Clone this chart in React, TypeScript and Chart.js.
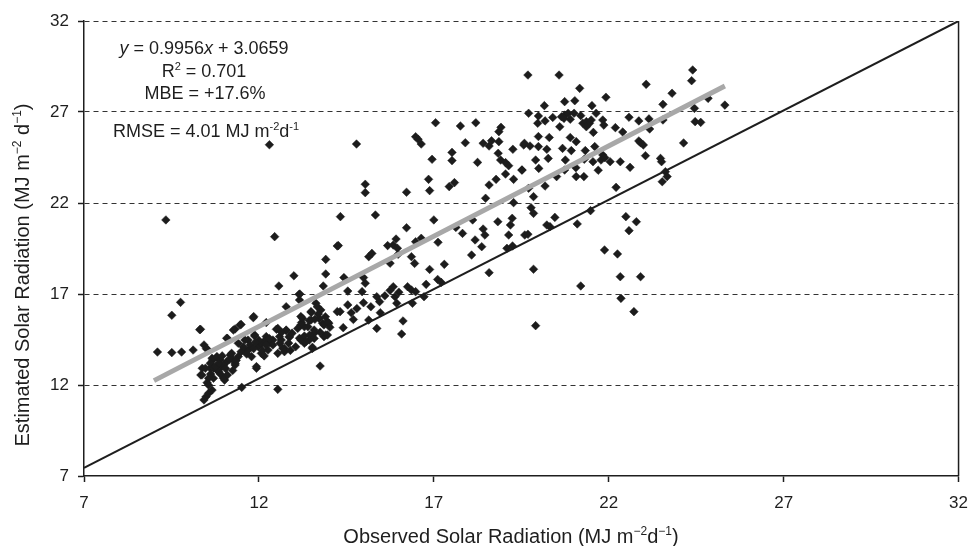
import React, { useEffect, useRef } from "react";
import { Chart, registerables } from "chart.js";

Chart.register(...registerables);

// Observed (x) and estimated (y) daily solar radiation, MJ m-2 d-1
const observed: number[] = [
  9.34, 12.45, 13.91, 13.0, 13.91, 12.57, 13.84, 9.76, 9.51, 13.17, 12.78, 11.85, 10.31, 9.1, 9.51, 9.79, 10.12, 10.43, 10.5,
  11.32, 11.49, 11.1, 11.22, 10.87, 10.68, 10.61, 10.38, 10.34, 10.7, 10.52, 11.02, 10.94, 11.08, 11.32, 10.85, 10.49, 10.56,
  10.66, 10.43, 11.51, 12.54, 13.75, 11.41, 11.6, 11.69, 11.88, 11.98, 11.79, 11.93, 12.07, 12.21, 12.31, 12.4, 12.54, 12.78,
  12.64, 12.54, 12.73, 12.87, 13.2, 13.2, 13.49, 13.49, 13.58, 13.72, 13.82, 13.63, 13.67, 13.77, 14.0, 13.91, 13.58, 13.44,
  13.3, 13.2, 13.53, 13.11, 14.24, 14.24,
  10.52, 10.66, 10.8, 10.89, 10.61, 10.7, 10.47, 10.37, 10.56, 10.8, 10.99, 11.18, 11.27, 11.41, 11.32, 10.99, 10.56, 11.08,
  11.46, 11.6, 11.7, 11.88, 11.93, 12.07, 12.17, 12.26, 12.4, 12.5, 12.59, 12.68, 12.78, 12.87, 12.73, 13.16, 13.3, 13.34,
  13.53, 13.3, 13.22, 13.5, 13.6, 13.44, 13.86, 13.96, 14.03, 13.86, 13.58, 11.84, 10.33, 12.21, 11.49, 11.27, 13.15, 13.16,
  17.05, 17.76, 18.2, 18.92, 18.86, 16.48, 16.55, 14.79, 16.64, 17.9, 18.41, 18.58, 18.65, 18.86, 19.57, 19.26, 17.52, 17.52,
  16.95, 18.25, 18.84, 18.91, 19.05, 19.14, 19.52, 19.05, 19.28, 18.78, 18.58, 16.85, 16.88, 15.04, 15.04, 16.22, 17.44, 17.59,
  18.48, 19.28, 14.33, 15.33, 17.0, 16.22, 17.63, 18.11, 18.83, 19.24, 19.19, 18.41, 18.46, 17.82, 19.14, 14.27, 17.12, 15.68,
  15.92, 15.84, 15.96, 15.98, 15.75, 16.48, 16.64, 15.14, 15.23, 16.36, 16.45, 18.18, 18.37, 18.08, 19.09, 19.25, 19.6, 16.88,
  17.3, 17.11, 17.21, 18.58, 14.43, 14.54, 14.99, 15.04, 14.95, 15.84, 15.89, 15.94, 16.25, 16.36, 16.48, 16.78, 16.72, 16.39,
  15.37, 15.45, 14.99, 14.54, 14.64, 14.32, 14.41, 15.14, 15.47, 15.37, 16.12, 16.08, 13.96,
  19.69, 20.58, 24.4, 24.37, 23.07, 21.17, 23.81, 21.92, 20.74, 21.03, 20.16, 19.71, 19.99, 19.97, 20.18, 20.65, 20.74, 20.84,
  21.01, 20.6, 20.72, 21.52, 21.64, 21.26, 21.36, 21.45, 21.5, 21.36, 21.56, 21.83, 21.86, 22.19, 22.58, 22.86, 23.15, 23.17,
  23.55, 23.55, 24.45, 24.47, 24.63, 24.84, 24.14, 22.86, 22.91, 22.99, 23.05, 23.48, 23.51, 23.62, 23.67, 23.53, 19.59, 19.75,
  19.99, 19.99, 20.23, 20.27, 19.91, 20.68, 20.93, 21.07, 20.76, 21.33, 21.83, 21.78, 21.89, 22.04, 21.55, 22.33, 22.61, 19.52,
  21.06, 21.07, 21.29, 20.51, 20.18, 20.74, 19.71, 19.85, 19.78, 19.85, 22.21, 21.48, 20.46, 20.23, 20.32, 21.1, 22.49, 22.79,
  22.58, 19.69, 21.88, 22.25, 19.85, 22.33, 22.91, 21.2, 22.35, 22.72, 19.91, 25.32, 12.3,
  10.75, 10.9, 11.05, 11.15, 10.95, 11.25, 10.62, 11.35, 10.85, 11.1, 11.55, 11.75, 11.85, 12.0, 12.1, 12.2, 11.65, 12.3,
  11.9, 12.15, 12.6, 12.85, 12.95, 12.65, 13.05, 12.9, 13.4, 13.7, 13.75, 13.45, 13.9, 13.25, 14.8, 15.2, 15.6, 15.75,
  16.0, 14.7, 20.4, 20.9, 21.2, 20.3, 21.6, 22.4, 20.9, 21.3, 20.0, 21.7,
];
const estimated: number[] = [
  21.07, 20.15, 18.9, 18.0, 18.1, 17.44, 17.44, 16.54, 15.83, 17.0, 16.3, 15.76, 15.04, 13.81, 13.78, 13.81, 13.92, 14.2, 14.01,
  15.08, 15.33, 14.56, 13.74, 13.43, 13.37, 12.92, 12.92, 12.55, 12.37, 12.13, 12.27, 13.01, 13.28, 13.19, 12.73, 11.36, 11.54,
  11.72, 11.18, 11.87, 11.76, 13.04, 14.29, 13.92, 14.47, 14.75, 14.11, 13.56, 12.92, 14.29, 14.66, 14.33, 14.47, 15.11, 15.02,
  14.47, 13.74, 14.01, 14.66, 15.76, 15.3, 16.03, 15.57, 15.02, 15.66, 15.39, 16.49, 16.3, 16.12, 15.39, 14.75, 14.56, 14.47,
  14.29, 14.47, 14.01, 15.11, 16.03, 19.64,
  13.96, 13.47, 13.56, 13.37, 13.19, 12.92, 12.92, 12.55, 12.37, 12.83, 13.1, 13.65, 13.37, 13.56, 13.1, 12.37, 12.0, 14.57,
  15.3, 14.47, 13.92, 14.69, 13.01, 13.74, 14.44, 13.92, 14.2, 15.06, 14.66, 14.02, 14.99, 14.62, 13.83, 14.57, 14.69, 14.38,
  14.07, 15.2, 15.43, 15.98, 15.61, 15.54, 15.3, 15.48, 15.17, 14.66, 14.84, 15.7, 15.06, 15.43, 13.83, 15.02, 16.98, 16.67,
  26.41, 26.23, 26.41, 26.16, 25.92, 25.64, 25.5, 25.24, 25.24, 25.31, 25.28, 25.13, 25.42, 25.37, 25.19, 24.95, 24.78, 24.33,
  24.4, 24.23, 24.73, 24.36, 24.22, 24.05, 23.81, 23.59, 23.3, 23.3, 22.99, 23.3, 22.68, 23.03, 22.57, 22.59, 22.9, 23.12,
  22.26, 22.02, 21.25, 21.34, 21.07, 20.64, 20.66, 21.07, 20.97, 21.16, 20.79, 20.57, 20.24, 20.33, 20.24, 19.66, 19.84, 19.66,
  20.02, 19.69, 19.51, 19.18, 18.69, 19.87, 20.06, 19.05, 19.23, 19.05, 18.68, 19.97, 19.6, 19.14, 19.51, 19.64, 20.24, 18.35,
  18.63, 17.8, 17.64, 18.17, 17.9, 17.16, 17.9, 17.59, 17.13, 17.4, 16.85, 16.49, 17.4, 17.22, 17.13, 17.53, 16.85, 16.49,
  16.85, 16.58, 16.52, 16.4, 15.97, 16.03, 15.15, 15.57, 15.97, 15.11, 15.52, 14.8, 14.75,
  29.03, 29.03, 29.31, 28.72, 28.52, 28.3, 28.03, 27.81, 27.57, 27.62, 27.35, 26.93, 26.78, 26.38, 26.51, 26.74, 26.83, 26.93,
  26.93, 26.19, 26.65, 27.35, 26.93, 26.38, 26.47, 26.38, 26.56, 26.19, 25.88, 26.56, 26.28, 26.14, 26.71, 26.51, 26.62, 26.07,
  27.42, 26.56, 27.2, 26.47, 26.43, 27.75, 25.3, 25.41, 25.31, 25.19, 24.6, 24.45, 24.27, 23.72, 23.45, 23.17, 25.28, 25.13,
  25.65, 25.1, 24.95, 24.45, 24.36, 25.0, 24.88, 25.37, 24.36, 24.88, 24.64, 24.36, 24.49, 24.27, 24.27, 24.27, 23.96, 23.81,
  23.94, 23.45, 23.45, 23.45, 22.93, 23.81, 22.81, 22.35, 21.74, 21.43, 22.86, 21.58, 21.21, 20.79, 20.7, 20.85, 21.25, 20.97,
  20.48, 20.28, 19.42, 19.2, 18.36, 17.95, 17.95, 17.44, 16.76, 16.03, 15.26, 27.38, 25.2,
  13.0, 12.6, 12.9, 13.4, 13.6, 12.8, 12.6, 13.35, 13.2, 12.55, 14.1, 14.2, 14.0, 14.45, 13.9, 14.2, 13.7, 14.55,
  14.35, 13.6, 14.3, 14.3, 14.85, 14.9, 14.1, 13.9, 15.2, 15.9, 14.9, 14.75, 15.75, 15.65, 16.2, 16.3, 16.9, 17.2,
  17.1, 15.6, 26.7, 26.6, 26.8, 25.6, 25.1, 25.9, 25.6, 24.4, 23.9, 23.8,
];

// Regression (trend) line end points and 1:1 reference line, as drawn
const trendX: number[] = [9.0, 25.32];
const trendY: number[] = [12.24, 28.43];
const refX: number[] = [7, 32];
const refY: number[] = [7.45, 32];

const xTicks: number[] = [7, 12, 17, 22, 27, 32];
const yTicks: number[] = [7, 12, 17, 22, 27, 32];

const FONT = '"Liberation Sans", Arial, Helvetica, sans-serif';
const INK = "#1e1e1e";

type Seg = { t: string; it?: boolean; sup?: boolean };

function drawRich(ctx: CanvasRenderingContext2D, segs: Seg[], x: number, y: number, size: number, align: "center" | "left") {
  const fontFor = (s: Seg) => `${s.it ? "italic " : ""}${s.sup ? Math.round(size * 0.62) : size}px ${FONT}`;
  const widths = segs.map((s) => {
    ctx.font = fontFor(s);
    return ctx.measureText(s.t).width;
  });
  const total = widths.reduce((a, b) => a + b, 0);
  let cx = align === "center" ? x - total / 2 : x;
  ctx.textAlign = "left";
  ctx.textBaseline = "alphabetic";
  segs.forEach((s, i) => {
    ctx.font = fontFor(s);
    ctx.fillText(s.t, cx, s.sup ? y - size * 0.4 : y);
    cx += widths[i];
  });
}

const labelsPlugin = {
  id: "labelsPlugin",
  afterDraw(chart: any) {
    const ctx: CanvasRenderingContext2D = chart.ctx;
    const area = chart.chartArea;
    ctx.save();
    // right border of the plot box
    ctx.strokeStyle = INK;
    ctx.lineWidth = 1.5;
    ctx.beginPath();
    ctx.moveTo(area.right, area.top);
    ctx.lineTo(area.right, area.bottom);
    ctx.stroke();

    ctx.fillStyle = INK;
    const a = 18;
    drawRich(ctx, [{ t: "y", it: true }, { t: " = 0.9956" }, { t: "x", it: true }, { t: " + 3.0659" }], 204, 54, a, "center");
    drawRich(ctx, [{ t: "R" }, { t: "2", sup: true }, { t: " = 0.701" }], 204, 77, a, "center");
    drawRich(ctx, [{ t: "MBE = +17.6%" }], 205, 99, a, "center");
    drawRich(ctx, [{ t: "RMSE = 4.01 MJ m" }, { t: "-2", sup: true }, { t: "d" }, { t: "-1", sup: true }], 113, 137, a, "left");

    const tsz = 20;
    drawRich(
      ctx,
      [{ t: "Observed Solar Radiation (MJ m" }, { t: "\u22122", sup: true }, { t: "d" }, { t: "\u22121", sup: true }, { t: ")" }],
      511,
      543,
      tsz,
      "center"
    );
    ctx.translate(22, 275);
    ctx.rotate(-Math.PI / 2);
    drawRich(
      ctx,
      [{ t: "Estimated Solar Radiation (MJ m" }, { t: "\u22122", sup: true }, { t: " d" }, { t: "\u22121", sup: true }, { t: ")" }],
      0,
      7,
      tsz,
      "center"
    );
    ctx.restore();
  },
};

export default function App() {
  const ref = useRef<HTMLCanvasElement | null>(null);

  useEffect(() => {
    document.body.style.margin = "0";
    const canvas = ref.current;
    if (!canvas) return;
    const points = observed.map((x, i) => ({ x, y: estimated[i] }));
    const trend = trendX.map((x, i) => ({ x, y: trendY[i] }));
    const ref11 = refX.map((x, i) => ({ x, y: refY[i] }));

    const chart = new Chart(canvas, {
      type: "scatter",
      data: {
        datasets: [
          {
            type: "line",
            data: ref11,
            borderColor: INK,
            borderWidth: 2,
            pointRadius: 0,
            fill: false,
            order: 3,
          },
          {
            type: "scatter",
            data: points,
            pointStyle: "rectRot",
            pointRadius: 4.3,
            pointBackgroundColor: "#1c1c1c",
            pointBorderColor: "#1c1c1c",
            pointBorderWidth: 0.5,
            order: 2,
          },
          {
            type: "line",
            data: trend,
            borderColor: "#a8a8a8",
            borderWidth: 5,
            pointRadius: 0,
            fill: false,
            order: 1,
          },
        ] as any,
      },
      options: {
        responsive: false,
        animation: false,
        devicePixelRatio: 1,
        layout: { padding: { left: 0, right: 11, top: 21, bottom: 0 } },
        plugins: { legend: { display: false }, tooltip: { enabled: false } },
        scales: {
          x: {
            type: "linear",
            min: 7,
            max: 32,
            afterBuildTicks: (s: any) => {
              s.ticks = xTicks.map((v) => ({ value: v }));
            },
            afterFit: (s: any) => {
              s.height = 70;
            },
            ticks: { color: INK, font: { family: FONT, size: 17 }, padding: 11, maxRotation: 0 },
            grid: { drawOnChartArea: false, drawTicks: true, tickLength: 6, tickColor: INK, tickWidth: 1.5, color: INK },
            border: { display: true, color: INK, width: 1.5 },
          },
          y: {
            type: "linear",
            min: 7,
            max: 32,
            afterBuildTicks: (s: any) => {
              s.ticks = yTicks.map((v) => ({ value: v }));
            },
            afterFit: (s: any) => {
              s.width = 84;
            },
            ticks: { color: INK, font: { family: FONT, size: 17 }, padding: 9 },
            grid: {
              drawOnChartArea: true,
              drawTicks: true,
              tickLength: 6,
              tickColor: INK,
              tickWidth: 1.5,
              lineWidth: 1,
              color: (c: any) => (c.tick && c.tick.value === 7 ? "rgba(0,0,0,0)" : "#333333"),
            },
            border: { display: true, color: INK, width: 1.5, dash: [5, 4] },
          },
        },
      },
      plugins: [labelsPlugin],
    });
    return () => chart.destroy();
  }, []);

  return (
    <div style={{ width: 979, height: 546, background: "#ffffff" }}>
      <canvas ref={ref} width={979} height={546} style={{ display: "block" }} />
    </div>
  );
}
